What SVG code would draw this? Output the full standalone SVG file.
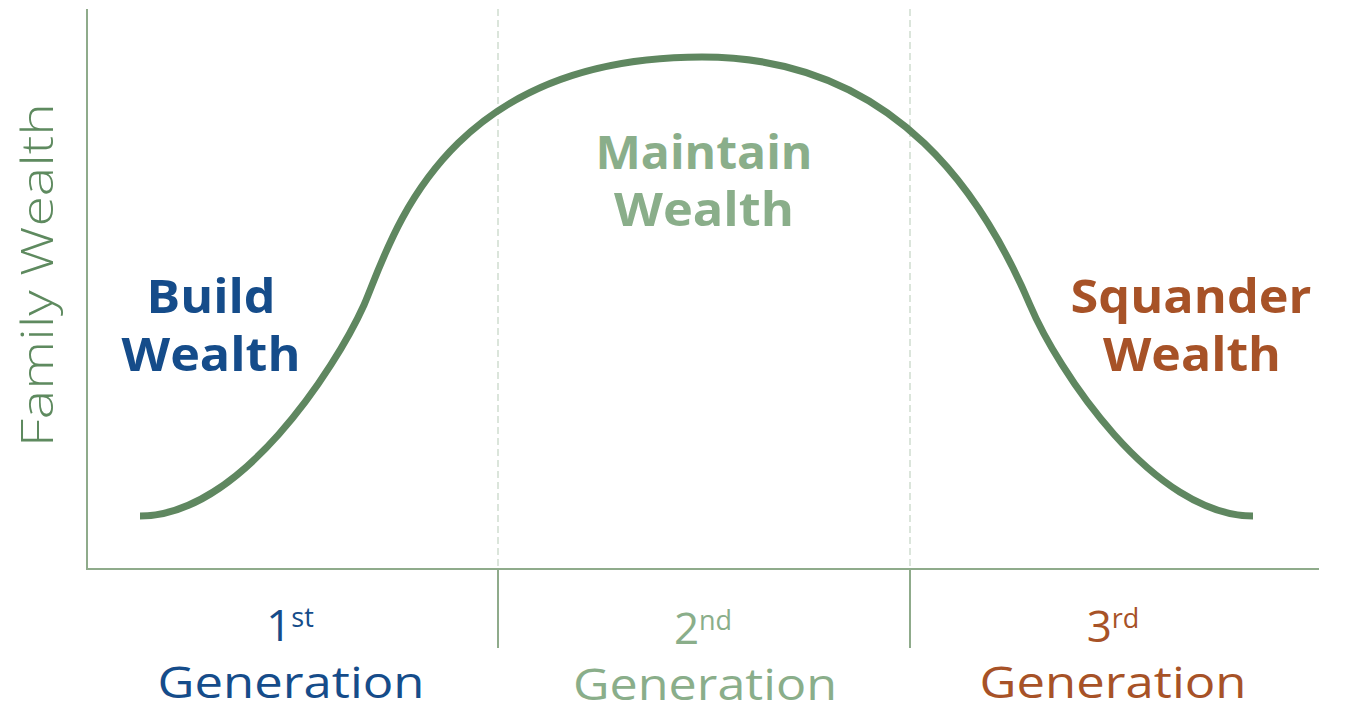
<svg xmlns="http://www.w3.org/2000/svg" width="1346" height="705" viewBox="0 0 1346 705">
  <style>
    .axis { stroke: #8fab8b; stroke-width: 2; fill: none; }
    .guide { stroke: #d3dfd3; stroke-width: 1.6; stroke-dasharray: 7 4; fill: none; }
    .tick { stroke: #8fab8b; stroke-width: 2; fill: none; }
    .curve { stroke: #5f8760; stroke-width: 7; fill: none; stroke-linecap: butt; }
    .phase { font-family: "Open Sans", "Liberation Sans", sans-serif; font-weight: 700; font-size: 47px; text-anchor: middle; }
    .gen { font-family: "Open Sans", "Liberation Sans", sans-serif; font-weight: 400; font-size: 44px; text-anchor: middle; }
    .sup { font-size: 27px; }
    .ylabel { font-family: "Open Sans", "Liberation Sans", sans-serif; font-weight: 300; font-size: 44px; fill: #5e8a5f; text-anchor: middle; }
    .blue { fill: #154c8a; }
    .sage { fill: #8aae8a; }
    .rust { fill: #a75227; }
  </style>

  <!-- axes and generation dividers -->
  <g id="axes">
    <line class="axis" x1="87" y1="9" x2="87" y2="569"/>
    <line class="axis" x1="86" y1="569" x2="1319" y2="569"/>
    <line class="guide" x1="498" y1="9" x2="498" y2="568"/>
    <line class="guide" x1="910" y1="9" x2="910" y2="568"/>
    <line class="tick" x1="498" y1="569" x2="498" y2="648"/>
    <line class="tick" x1="910" y1="569" x2="910" y2="648"/>
  </g>

  <text id="y-label" class="ylabel" transform="translate(53,275) rotate(-90)" textLength="344" lengthAdjust="spacingAndGlyphs">Family Wealth</text>

  <!-- wealth curve across the three generations -->
  <g id="connectors">
    <path id="wealth-curve" class="curve" d="M140,516 C240,516 335,369 364,305 C392,240 440,57 702,57 C900,57 987,204 1030,305 C1057,369 1153,516 1253,516"/>
  </g>

  <g id="phase-build">
    <text class="phase blue"><tspan x="211" y="313" textLength="129" lengthAdjust="spacingAndGlyphs">Build</tspan><tspan x="211" y="371" textLength="179" lengthAdjust="spacingAndGlyphs">Wealth</tspan></text>
  </g>
  <g id="phase-maintain">
    <text class="phase sage"><tspan x="704" y="169" textLength="217" lengthAdjust="spacingAndGlyphs">Maintain</tspan><tspan x="704" y="226" textLength="180" lengthAdjust="spacingAndGlyphs">Wealth</tspan></text>
  </g>
  <g id="phase-squander">
    <text class="phase rust"><tspan x="1191" y="313" textLength="241" lengthAdjust="spacingAndGlyphs">Squander</tspan><tspan x="1192" y="371" textLength="178" lengthAdjust="spacingAndGlyphs">Wealth</tspan></text>
  </g>

  <g id="gen-1">
    <text class="gen blue"><tspan x="290" y="641">1<tspan class="sup" dy="-14">st</tspan></tspan><tspan x="291" y="698" textLength="267" lengthAdjust="spacingAndGlyphs">Generation</tspan></text>
  </g>
  <g id="gen-2">
    <text class="gen sage"><tspan x="703" y="644">2<tspan class="sup" dy="-14">nd</tspan></tspan><tspan x="705" y="700" textLength="264" lengthAdjust="spacingAndGlyphs">Generation</tspan></text>
  </g>
  <g id="gen-3">
    <text class="gen rust"><tspan x="1113" y="642">3<tspan class="sup" dy="-14">rd</tspan></tspan><tspan x="1113" y="698" textLength="267" lengthAdjust="spacingAndGlyphs">Generation</tspan></text>
  </g>
</svg>
